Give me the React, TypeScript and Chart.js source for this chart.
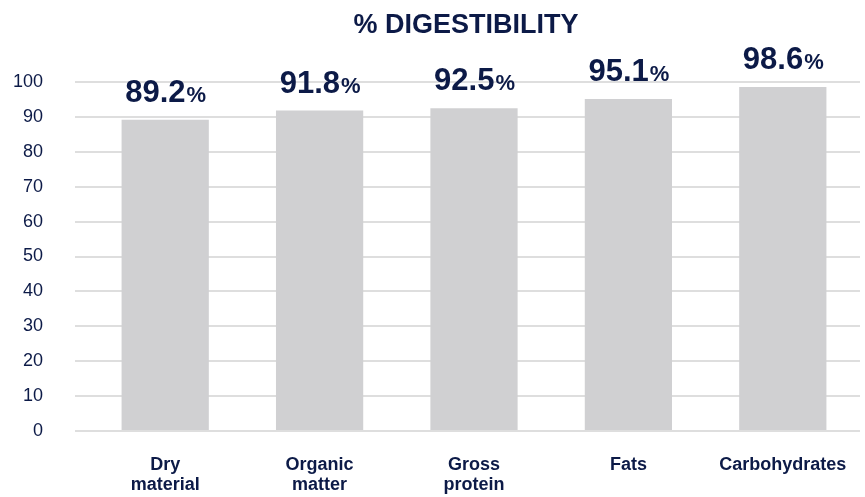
import React, { useEffect, useRef } from "react";
import { Chart, registerables } from "chart.js";

Chart.register(...registerables);

const categories: string[][] = [
  ["Dry", "material"],
  ["Organic", "matter"],
  ["Gross", "protein"],
  ["Fats"],
  ["Carbohydrates"],
];
const digestibility: number[] = [89.2, 91.8, 92.5, 95.1, 98.6];
const yTicks: number[] = [0, 10, 20, 30, 40, 50, 60, 70, 80, 90, 100];
const titleText = "% DIGESTIBILITY";

const NAVY = "#0c1a47";
const FONT = "'Liberation Sans', Arial, sans-serif";

const labelPlugin = {
  id: "valueLabels",
  afterDatasetsDraw(chart: any) {
    const ctx = chart.ctx;
    const meta = chart.getDatasetMeta(0);
    ctx.save();
    ctx.fillStyle = NAVY;
    ctx.textBaseline = "alphabetic";
    meta.data.forEach((bar: any, i: number) => {
      const num = digestibility[i].toFixed(1);
      ctx.font = `bold 31px ${FONT}`;
      const w1 = ctx.measureText(num).width;
      ctx.font = `bold 22px ${FONT}`;
      const w2 = ctx.measureText("%").width;
      const start = bar.x - (w1 + w2) / 2;
      const y = bar.y - 18;
      ctx.font = `bold 31px ${FONT}`;
      ctx.textAlign = "left";
      ctx.fillText(num, start, y);
      ctx.font = `bold 22px ${FONT}`;
      ctx.fillText("%", start + w1 + 1, y);
    });
    ctx.font = `bold 27px ${FONT}`;
    ctx.textAlign = "center";
    ctx.textBaseline = "middle";
    ctx.fillText(titleText, 466, 26);
    ctx.restore();
  },
};

export default function App() {
  const ref = useRef<HTMLCanvasElement>(null);
  useEffect(() => {
    if (!ref.current) return;
    const chart = new Chart(ref.current, {
      type: "bar",
      data: {
        labels: categories,
        datasets: [
          {
            data: digestibility,
            backgroundColor: "#d0d0d2",
            borderWidth: 0,
            categoryPercentage: 1,
            barPercentage: 0.565,
          },
        ],
      },
      options: {
        animation: false,
        responsive: false,
        maintainAspectRatio: false,
        layout: { padding: { top: 82, right: 5, left: 0, bottom: 0 } },
        plugins: {
          legend: { display: false },
          title: { display: false },
          tooltip: { enabled: false },
        },
        scales: {
          x: {
            grid: { display: false, drawTicks: false },
            border: { display: false },
            ticks: {
              color: NAVY,
              font: { family: FONT, size: 18, weight: "bold", lineHeight: 1.12 },
              padding: 24,
              maxRotation: 0,
              autoSkip: false,
            },
            afterFit(scale: any) {
              scale.height = 66;
              scale.paddingLeft = 0;
              scale.paddingRight = 0;
            },
          },
          y: {
            min: 0,
            max: 100,
            afterBuildTicks(scale: any) {
              scale.ticks = yTicks.map((v) => ({ value: v }));
            },
            grid: { color: "#dedede", lineWidth: 2, tickLength: 13 },
            border: { display: false },
            ticks: {
              color: NAVY,
              font: { family: FONT, size: 18 },
              padding: 32,
            },
            afterFit(scale: any) {
              scale.width = 88;
            },
          },
        },
      },
      plugins: [labelPlugin],
    });
    return () => chart.destroy();
  }, []);
  return (
    <div style={{ position: "absolute", left: 0, top: 0, width: 865, height: 497, background: "#fff" }}>
      <canvas ref={ref} width={865} height={497} style={{ width: 865, height: 497 }} />
    </div>
  );
}
